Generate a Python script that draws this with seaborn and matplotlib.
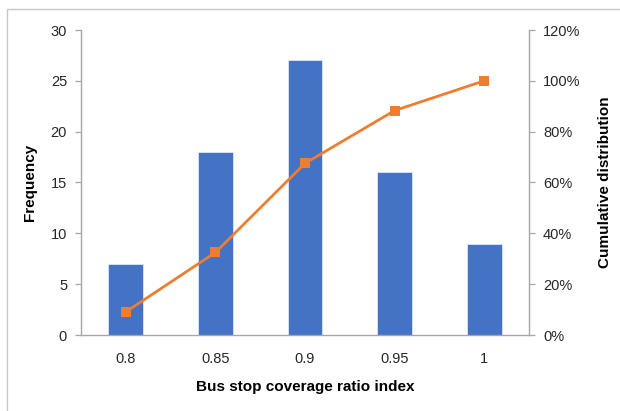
import numpy as np
import pandas as pd
import matplotlib
matplotlib.use("Agg")
import matplotlib.pyplot as plt
from matplotlib.patches import Rectangle
from matplotlib.ticker import PercentFormatter
import seaborn as sns

# Histogram of the bus stop coverage ratio index
categories = ["0.8", "0.85", "0.9", "0.95", "1"]
frequency = [7, 18, 27, 16, 9]
cumulative = list(np.cumsum(frequency) / np.sum(frequency) * 100)

freq_ticks = [0, 5, 10, 15, 20, 25, 30]
pct_ticks = [0, 20, 40, 60, 80, 100, 120]

df = pd.DataFrame({"index": categories, "freq": frequency, "cum": cumulative,
                   "pos": np.arange(len(categories))})

sns.set_theme(style="white")
plt.rcParams["font.family"] = ["Liberation Sans", "DejaVu Sans"]

bar_color = "#4472C4"
line_color = "#ED7D31"
axis_color = "#A6A6A6"
text_color = "#262626"

fig = plt.figure(figsize=(6.2, 4.11), dpi=100)
ax = fig.add_axes([81 / 620, 1 - 335 / 411, 448 / 620, 305 / 411])

sns.barplot(data=df, x="index", y="freq", color=bar_color, width=0.39,
            saturation=1, ax=ax, edgecolor="#dfe6f3", linewidth=0.6, zorder=2)

ax.set_xlim(-0.5, len(categories) - 0.5)
ax.set_ylim(0, 30)
ax.set_yticks(freq_ticks)
ax.set_xticks(np.arange(len(categories)))
ax.set_xticklabels(categories)
# tick marks sit on the category boundaries
ax.set_xticks(np.arange(-0.5, len(categories), 1.0), minor=True)
ax.tick_params(axis="x", which="major", length=0, pad=12, labelsize=10.5,
               colors=text_color)
ax.tick_params(axis="x", which="minor", length=5, width=0.9, color=axis_color,
               direction="out")
ax.tick_params(axis="y", length=4, width=0.9, color=axis_color, direction="out",
               labelsize=10.5, labelcolor=text_color, left=True, pad=6)

for side in ["top", "right"]:
    ax.spines[side].set_visible(False)
for side in ["left", "bottom"]:
    ax.spines[side].set_color(axis_color)
    ax.spines[side].set_linewidth(1.0)

ax.set_xlabel("Bus stop coverage ratio index", fontsize=11, fontweight="bold",
              color="black", labelpad=10)
ax.set_ylabel("Frequency", fontsize=11, fontweight="bold", color="black",
              labelpad=10)

ax2 = ax.twinx()
sns.lineplot(data=df, x="pos", y="cum", ax=ax2, color=line_color, linewidth=2,
             marker="s", markersize=7, markeredgewidth=0, zorder=3)
ax2.set_ylim(0, 120)
ax2.set_yticks(pct_ticks)
ax2.yaxis.set_major_formatter(PercentFormatter(decimals=0))
ax2.tick_params(axis="y", length=4, width=0.9, color=axis_color, direction="out",
                labelsize=10.5, labelcolor=text_color, right=True, pad=6)
for side in ["top", "left", "bottom"]:
    ax2.spines[side].set_visible(False)
ax2.spines["right"].set_color(axis_color)
ax2.spines["right"].set_linewidth(1.0)
ax2.set_xlabel("")
ax2.set_ylabel("Cumulative distribution", fontsize=11, fontweight="bold",
               color="black", labelpad=13)

# chart frame
fig.patches.append(Rectangle((7 / 620, -0.05), 1.2, 1 - 9 / 411 + 0.05,
                             transform=fig.transFigure, fill=False,
                             edgecolor="#C8C8C8", linewidth=1.0))

fig.savefig("out.png", dpi=100)
